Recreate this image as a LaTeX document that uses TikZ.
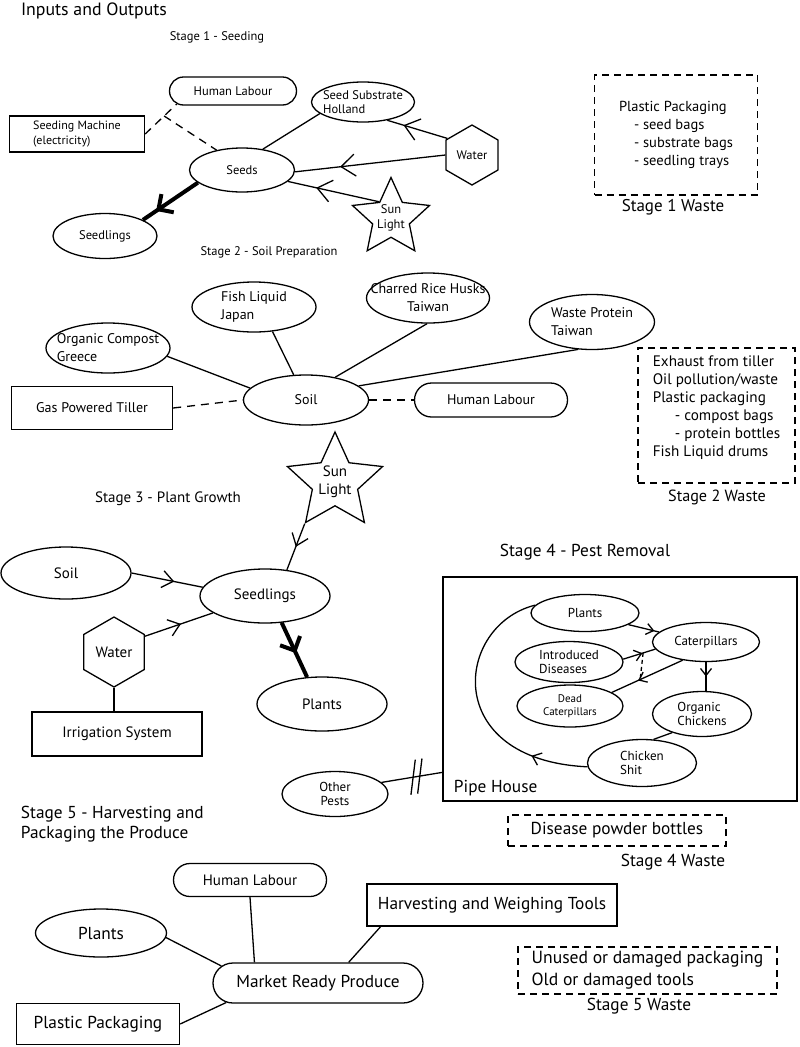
\documentclass[tikz,border=0pt]{standalone}
\usepackage{fontspec}
\setmainfont{PT Sans}
\usetikzlibrary{arrows.meta,positioning,shapes.geometric,shapes.misc,decorations.markings,calc}

\begin{document}
\begin{tikzpicture}[
          x=1pt, y=-1pt, line width=1.3pt,
          sm/.style={font=\fontsize{12.5}{14.5}\selectfont},
          tn/.style={font=\fontsize{13}{14.5}\selectfont},
          md/.style={font=\fontsize{14}{18}\selectfont},
          mdx/.style={font=\fontsize{15}{18}\selectfont},
          lg/.style={font=\fontsize{17.3}{20}\selectfont},
          oval/.style={draw, ellipse, inner xsep=-18pt, inner ysep=-8pt},
          box/.style={draw, rectangle, inner sep=0pt},
          pill/.style={draw, rounded rectangle, inner sep=0pt},
          hexa/.style={draw, regular polygon, regular polygon sides=6, shape border rotate=30, inner sep=0pt},
          sunstar/.style={draw, star, star points=5, star point ratio=2.1, inner sep=-2pt, align=center},
          wastebox/.style={draw, rectangle, dash pattern=on 7pt off 5pt, inner sep=0pt, align=left},
          link/.style={dash pattern=on 8pt off 6pt},
          flow/.style n args={3}{postaction={decorate, decoration={markings,
              mark=at position #1 with {\arrow{Straight Barb[length=#2, width=#3]}}}}},
          stopbars/.style={postaction={decorate, decoration={markings,
              mark=at position 0.52 with {\draw (-5pt,-17pt) -- (5pt,17pt);},
              mark=at position 0.63 with {\draw (-5pt,-17pt) -- (5pt,17pt);}}}}
      ]
        \useasboundingbox (0,0) rectangle (800,1047);

        \node[font=\fontsize{17.8}{20}\selectfont] (title) at (94,11) {Inputs and Outputs};
        \node[sm] (st1) at (217,37) {Stage 1 - Seeding};
        \node[pill, sm, minimum width=127pt, minimum height=28pt] (lab1) at (233,91) {Human Labour};
        \node[box, font=\fontsize{12}{15}\selectfont, minimum width=135pt, minimum height=36pt, align=left] (mach) at (77,134) {Seeding Machine\\(electricity)};
        \node[oval, sm, minimum width=105pt, minimum height=44pt] (seeds) at (242,170) {Seeds};
        \node[oval, sm, minimum width=104pt, minimum height=45pt] (sdl1) at (105,236) {Seedlings};
        \node[oval, sm, minimum width=103pt, minimum height=40pt, align=left] (subs) at (363,102) {Seed Substrate\\Holland};
        \node[hexa, sm, minimum size=60pt] (wat1) at (472,155) {Water};
        \node[sunstar, sm, minimum size=81pt] (sun1) at (391,218) {Sun\\Light};
        \node[wastebox, font=\fontsize{14.5}{18}\selectfont, minimum width=163pt, minimum height=120pt] (waste1) at (676,135)
            {Plastic Packaging\\\hspace*{15pt}- seed bags\\\hspace*{15pt}- substrate bags\\\hspace*{15pt}- seedling trays};
        \node[font=\fontsize{17}{18}\selectfont] (wt1) at (673,207) {Stage 1 Waste};

        \draw[link] (mach.east) -- coordinate[pos=0.6] (j1) (lab1.193);
        \draw[link] (j1) -- (seeds.142);
        \draw (seeds.45) -- (subs.195);
        \draw[flow={0.73}{14pt}{22pt}] (wat1.146) -- (subs.323);
        \draw[flow={0.70}{14pt}{22pt}] (wat1.180) -- (seeds.-2);
        \draw[flow={0.69}{14pt}{22pt}] (sun1.126) -- (seeds.-14);
        \draw[line width=4pt, flow={0.76}{11pt}{22pt}] (seeds.196) -- (sdl1.23);

        \node[font=\fontsize{12.5}{15}\selectfont] (st2) at (269,252) {Stage 2 - Soil Preparation};
        \node[oval, md, minimum width=124pt, minimum height=50pt, align=left] (fish) at (254,307) {Fish Liquid\\Japan};
        \node[oval, md, minimum width=124pt, minimum height=50pt, align=left] (comp) at (108,348) {Organic Compost\\Greece};
        \node[box, md, minimum width=161pt, minimum height=43pt] (till) at (92,408) {Gas Powered Tiller};
        \node[oval, md, minimum width=125pt, minimum height=50pt] (soil2) at (306,400) {Soil};
        \node[oval, md, minimum width=123pt, minimum height=50pt, align=center] (husk) at (428,298) {Charred Rice Husks\\Taiwan};
        \node[oval, md, minimum width=125pt, minimum height=55pt, align=left] (prot) at (592,322) {Waste Protein\\Taiwan};
        \node[pill, md, minimum width=153pt, minimum height=34pt] (lab2) at (491,400) {Human Labour};
        \node[wastebox, font=\fontsize{15.2}{18}\selectfont, minimum width=157pt, minimum height=135pt] (waste2) at (716.5,415.5)
            {Exhaust from tiller\\Oil pollution/waste\\Plastic packaging\\\hspace*{22pt}- compost bags\\\hspace*{22pt}- protein bottles\\Fish Liquid drums\\~};
        \node[font=\fontsize{16.2}{18}\selectfont] (wt2) at (717,497) {Stage 2 Waste};

        \draw (soil2.168) -- (comp.352);
        \draw (soil2.116) -- (fish.307);
        \draw (soil2.38) -- (husk.268);
        \draw (soil2.15) -- (prot.243);
        \draw[link] (till.east) -- (soil2.west);
        \draw[link] (soil2.east) -- (lab2.west);

        \node[sunstar, mdx, minimum size=100pt] (sun3) at (335,482) {Sun\\Light};
        \node[mdx] (st3) at (168,499) {Stage 3 - Plant Growth};
        \node[oval, mdx, minimum width=130pt, minimum height=52pt] (soil3) at (66,573) {Soil};
        \node[oval, mdx, minimum width=130pt, minimum height=54pt] (sdl3) at (265,596) {Seedlings};
        \node[hexa, mdx, minimum size=70pt] (wat3) at (114,652) {Water};
        \node[box, mdx, minimum width=170pt, minimum height=44pt] (irr) at (117,734) {Irrigation System};
        \node[oval, mdx, minimum width=130pt, minimum height=54pt] (pl3) at (322,704) {Plants};

        \draw[flow={0.5}{11pt}{17pt}] (sun3.234) -- (sdl3.50);
        \draw[flow={0.6}{11pt}{17pt}] (soil3.0) -- (sdl3.172);
        \draw[flow={0.53}{11pt}{17pt}] (wat3.27) -- (sdl3.198);
        \draw (wat3.270) -- (wat3.270 |- irr.north);
        \draw[line width=4pt, flow={0.56}{11pt}{22pt}] (sdl3.302) -- (pl3.119);

        \node[lg] (st4) at (585,552) {Stage 4 - Pest Removal};
        \node[box, minimum width=354pt, minimum height=224pt] (pipe) at (620,689) {};
        \node[lg, anchor=west] (house) at (450,788) {Pipe House};
        \node[oval, tn, minimum width=108pt, minimum height=37pt] (pl4) at (585,613) {Plants};
        \node[oval, tn, minimum width=107pt, minimum height=39pt] (cat) at (706,642) {Caterpillars};
        \node[oval, tn, minimum width=108pt, minimum height=41pt, align=left] (dis) at (569,662) {Introduced\\Diseases};
        \node[oval, font=\fontsize{11}{13}\selectfont, minimum width=106pt, minimum height=42pt, align=center] (dead) at (570,706) {Dead\\Caterpillars};
        \node[oval, tn, minimum width=99pt, minimum height=45pt, align=left] (chk) at (702,714) {Organic\\Chickens};
        \node[oval, tn, minimum width=109pt, minimum height=47pt, align=left] (shit) at (642,763) {Chicken\\Shit};
        \node[oval, tn, minimum width=106pt, minimum height=45pt, align=center] (pests) at (335,794) {Other\\Pests};
        \coordinate (gate) at ($(pipe.south west)!0.13!(pipe.north west)$);
        \node[wastebox, lg, minimum width=218pt, minimum height=31pt] (waste4) at (617,830.5) {Disease powder bottles};
        \node[lg] (wt4) at (673,862) {Stage 4 Waste};

        \draw[flow={0.85}{7pt}{11pt}] (pl4.345) -- (cat.168);
        \draw[flow={0.6}{7pt}{11pt}] (dis.3) -- coordinate[pos=0.62] (d1) (cat.188);
        \draw[flow={0.63}{7pt}{11pt}] (cat.218) -- coordinate[pos=0.6] (d2) (dead.18);
        \draw[dash pattern=on 4pt off 3pt] (d1) -- (d2);
        \draw[flow={0.5}{7pt}{11pt}] (cat.south) -- (cat.south |- chk.north);
        \draw (chk.212) -- (shit.64);
        \draw[flow={0.22}{8pt}{13pt}] (shit.184) .. controls (440,760) and (455,625) .. (pl4.171);
        \draw[stopbars] (pests.14) -- (gate);

        \node[lg, anchor=west, align=left] (st5) at (17,824) {Stage 5 - Harvesting and\\Packaging the Produce};
        \node[pill, mdx, minimum width=153pt, minimum height=33pt] (lab5) at (250,880) {Human Labour};
        \node[oval, lg, minimum width=131pt, minimum height=48pt] (pl5) at (101,933) {Plants};
        \node[pill, lg, minimum width=210pt, minimum height=40pt] (mkt) at (318,983) {Market Ready Produce};
        \node[box, lg, minimum width=163pt, minimum height=41pt] (pack) at (98,1024) {Plastic Packaging};
        \node[box, lg, minimum width=250pt, minimum height=42pt] (tools) at (492,905) {Harvesting and Weighing Tools};
        \node[wastebox, font=\fontsize{17.6}{22}\selectfont, minimum width=259pt, minimum height=47pt] (waste5) at (647.5,970.5)
            {Unused or damaged packaging\\Old or damaged tools};
        \node[lg] (wt5) at (639,1006) {Stage 5 Waste};

        \draw (mkt.170) -- (pl5.356);
        \draw (mkt.162) -- (lab5.south);
        \draw (mkt.34) -- (tools.191);
        \draw (mkt.192) -- (pack.east);
      \end{tikzpicture}
\end{document}
